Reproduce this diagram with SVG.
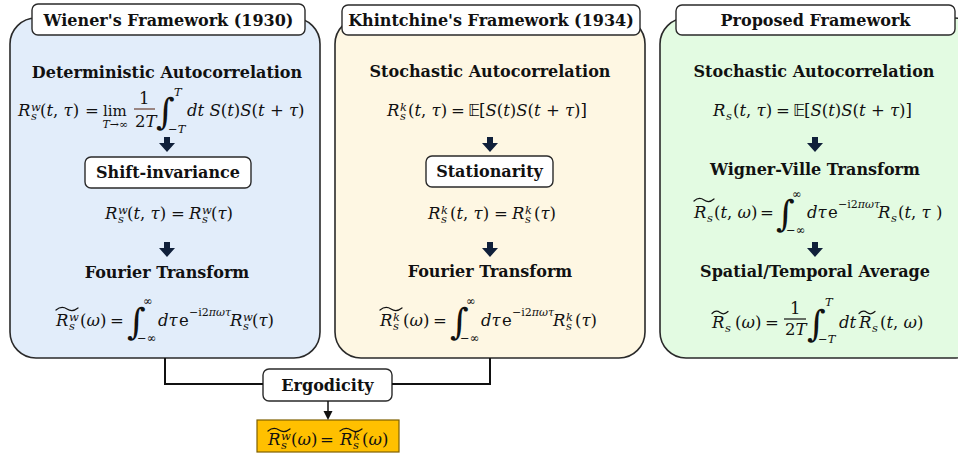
<svg xmlns="http://www.w3.org/2000/svg" width="958" height="453" viewBox="0 0 958 453">
<defs>
<style>
.frame{stroke:#2a2a2a;stroke-width:1.6}
.tb{fill:#fff;stroke:#2a2a2a;stroke-width:1.4}
.h{font-family:"DejaVu Serif","Liberation Serif",serif;font-weight:bold;font-size:16px;fill:#111;text-anchor:middle}
.m{font-family:"DejaVu Serif","Liberation Serif",serif;font-size:16.5px;font-style:italic;fill:#111}
.u{font-style:normal}
.sm{font-size:11.5px}
.xs{font-size:11px}
.bb{font-family:"DejaVu Sans",sans-serif;font-style:normal}
.int{font-family:"DejaVu Serif",serif;font-size:36px;font-style:normal}
.tld{fill:none;stroke:#111;stroke-width:1.2;stroke-linecap:round}
.fb{stroke:#111;stroke-width:1.2}
.conn{fill:none;stroke:#111;stroke-width:2}
.blk{fill:#10203a}
</style>
<path id="darr" d="M-3,0 H3 V6 H8 L0,15 L-8,6 H-3 Z"/>
</defs>

<!-- Panel 1: Wiener -->
<g id="wiener">
<rect class="frame" x="10" y="18" width="310" height="340" rx="26" fill="#E2EDFA"/>
<rect class="tb" x="32" y="4" width="273" height="31" rx="6"/>
<text class="h" x="168.5" y="26">Wiener's Framework (1930)</text>
<text class="h" x="167" y="78">Deterministic Autocorrelation</text>
<g id="w-eq1">
<line x1="134" y1="109" x2="155" y2="109" stroke="#6b3f2f" stroke-width="1.2"/>
<text class="m"><tspan x="18" y="116">R</tspan><tspan class="sm" x="31" y="111">w</tspan><tspan class="sm" x="31" y="120">s</tspan><tspan x="40" y="116"><tspan class="u">(</tspan>t<tspan class="u">, </tspan>τ<tspan class="u">)</tspan></tspan><tspan class="u" x="85" y="116">=</tspan><tspan class="u" x="103" y="116" font-size="15">lim</tspan><tspan class="xs" x="102.5" y="128">T<tspan class="u">→∞</tspan></tspan><tspan class="u" x="139" y="104">1</tspan><tspan x="135" y="127"><tspan class="u">2</tspan>T</tspan><tspan class="int" x="156" y="124">∫</tspan><tspan class="sm" x="174" y="96">T</tspan><tspan class="sm" x="168" y="133"><tspan class="u">−</tspan>T</tspan><tspan x="187" y="116">dt S<tspan class="u">(</tspan>t<tspan class="u">)</tspan>S<tspan class="u">(</tspan>t <tspan class="u">+</tspan> τ<tspan class="u">)</tspan></tspan></text>
</g>
<g id="w-eq2">
<text class="m"><tspan x="105" y="219">R</tspan><tspan class="sm" x="118" y="214">w</tspan><tspan class="sm" x="118" y="223">s</tspan><tspan x="127" y="219"><tspan class="u">(</tspan>t<tspan class="u">, </tspan>τ<tspan class="u">)</tspan></tspan><tspan class="u" x="171" y="219">=</tspan><tspan x="189" y="219">R</tspan><tspan class="sm" x="202" y="214">w</tspan><tspan class="sm" x="202" y="223">s</tspan><tspan x="211" y="219"><tspan class="u">(</tspan>τ<tspan class="u">)</tspan></tspan></text>
</g>
<text class="h" x="167" y="278">Fourier Transform</text>
<g id="w-eq3">
<path class="tld" d="M56,310 Q61.5,305.5 67,309 Q72.5,312.5 78,308"/>
<text class="m"><tspan x="56" y="326">R</tspan><tspan class="sm" x="69" y="321">w</tspan><tspan class="sm" x="69" y="330">s</tspan><tspan x="80" y="326"><tspan class="u">(</tspan>ω<tspan class="u">)</tspan></tspan><tspan class="u" x="110" y="326">=</tspan><tspan class="int" x="127" y="334">∫</tspan><tspan class="sm u" x="143" y="305">∞</tspan><tspan class="sm u" x="137" y="342">−∞</tspan><tspan x="158" y="326">dτ</tspan><tspan class="u" x="179" y="326">e</tspan><tspan class="xs" x="189" y="316"><tspan class="u">−i2</tspan>πωτ</tspan><tspan x="230" y="326">R</tspan><tspan class="sm" x="243" y="321">w</tspan><tspan class="sm" x="243" y="330">s</tspan><tspan x="252" y="326"><tspan class="u">(</tspan>τ<tspan class="u">)</tspan></tspan></text>
</g>
</g>

<g id="shift-invariance">
<rect class="tb" x="85" y="157" width="166" height="31" rx="6" fill="#E2EDFA"/>
<text class="h" x="168" y="178">Shift-invariance</text>
</g>

<!-- Panel 2: Khintchine -->
<g id="khintchine">
<rect class="frame" x="335" y="18" width="310" height="340" rx="26" fill="#FEF7E3"/>
<rect class="tb" x="342" y="5" width="298" height="30" rx="6"/>
<text class="h" x="491" y="26">Khintchine's Framework (1934)</text>
<text class="h" x="490" y="77">Stochastic Autocorrelation</text>
<g id="k-eq1">
<text class="m"><tspan x="387" y="116">R</tspan><tspan class="sm" x="400" y="111">k</tspan><tspan class="sm" x="400" y="120">s</tspan><tspan x="408" y="116"><tspan class="u">(</tspan>t<tspan class="u">, </tspan>τ<tspan class="u">)</tspan></tspan><tspan class="u" x="451" y="116">=</tspan><tspan class="bb" x="468" y="116">𝔼</tspan><tspan x="479" y="116"><tspan class="u">[</tspan>S<tspan class="u">(</tspan>t<tspan class="u">)</tspan>S<tspan class="u">(</tspan>t <tspan class="u">+</tspan> τ<tspan class="u">)]</tspan></tspan></text>
</g>
<g id="k-eq2">
<text class="m"><tspan x="428" y="219">R</tspan><tspan class="sm" x="441" y="214">k</tspan><tspan class="sm" x="441" y="223">s</tspan><tspan x="450" y="219"><tspan class="u">(</tspan>t<tspan class="u">, </tspan>τ<tspan class="u">)</tspan></tspan><tspan class="u" x="494" y="219">=</tspan><tspan x="512" y="219">R</tspan><tspan class="sm" x="525" y="214">k</tspan><tspan class="sm" x="525" y="223">s</tspan><tspan x="534" y="219"><tspan class="u">(</tspan>τ<tspan class="u">)</tspan></tspan></text>
</g>
<text class="h" x="490" y="277">Fourier Transform</text>
<g id="k-eq3">
<path class="tld" d="M380,310 Q385.5,305.5 391,309 Q396.5,312.5 402,308"/>
<text class="m"><tspan x="380" y="326">R</tspan><tspan class="sm" x="393" y="321">k</tspan><tspan class="sm" x="393" y="330">s</tspan><tspan x="403" y="326"><tspan class="u">(</tspan>ω<tspan class="u">)</tspan></tspan><tspan class="u" x="433" y="326">=</tspan><tspan class="int" x="450" y="334">∫</tspan><tspan class="sm u" x="466" y="305">∞</tspan><tspan class="sm u" x="460" y="342">−∞</tspan><tspan x="481" y="326">dτ</tspan><tspan class="u" x="502" y="326">e</tspan><tspan class="xs" x="512" y="316"><tspan class="u">−i2</tspan>πωτ</tspan><tspan x="553" y="326">R</tspan><tspan class="sm" x="566" y="321">k</tspan><tspan class="sm" x="566" y="330">s</tspan><tspan x="575" y="326"><tspan class="u">(</tspan>τ<tspan class="u">)</tspan></tspan></text>
</g>
</g>

<g id="stationarity">
<rect class="tb" x="426" y="156" width="127" height="31" rx="6" fill="#FEF7E3"/>
<text class="h" x="489.5" y="177">Stationarity</text>
</g>

<!-- Panel 3: Proposed -->
<g id="proposed">
<rect class="frame" x="660" y="18" width="320" height="340" rx="26" fill="#E3FBE2"/>
<rect class="tb" x="676" y="5" width="279" height="30" rx="6"/>
<text class="h" x="815.5" y="26">Proposed Framework</text>
<text class="h" x="814" y="77">Stochastic Autocorrelation</text>
<g id="p-eq1">
<text class="m"><tspan x="713" y="116">R</tspan><tspan class="sm" x="726" y="120">s</tspan><tspan x="733" y="116"><tspan class="u">(</tspan>t<tspan class="u">, </tspan>τ<tspan class="u">)</tspan></tspan><tspan class="u" x="776" y="116">=</tspan><tspan class="bb" x="793" y="116">𝔼</tspan><tspan x="804" y="116"><tspan class="u">[</tspan>S<tspan class="u">(</tspan>t<tspan class="u">)</tspan>S<tspan class="u">(</tspan>t <tspan class="u">+</tspan> τ<tspan class="u">)]</tspan></tspan></text>
</g>
<text class="h" x="815" y="175">Wigner-Ville Transform</text>
<g id="p-eq2">
<path class="tld" d="M694,201 Q699,196.5 704,200 Q709,203.5 714,199"/>
<text class="m"><tspan x="694" y="218">R</tspan><tspan class="sm" x="707" y="222">s</tspan><tspan x="714" y="218"><tspan class="u">(</tspan>t<tspan class="u">, </tspan>ω<tspan class="u">)</tspan></tspan><tspan class="u" x="760" y="218">=</tspan><tspan class="int" x="776" y="226">∫</tspan><tspan class="sm u" x="792" y="198">∞</tspan><tspan class="sm u" x="786" y="234">−∞</tspan><tspan x="807" y="218">dτ</tspan><tspan class="u" x="828" y="218">e</tspan><tspan class="xs" x="838" y="208"><tspan class="u">−i2</tspan>πωτ</tspan><tspan x="878" y="218">R</tspan><tspan class="sm" x="891" y="222">s</tspan><tspan x="898" y="218"><tspan class="u">(</tspan>t<tspan class="u">, </tspan>τ <tspan class="u">)</tspan></tspan></text>
</g>
<text class="h" x="815" y="277">Spatial/Temporal Average</text>
<g id="p-eq3">
<line x1="784" y1="319" x2="806" y2="319" class="fb"/>
<path class="tld" d="M712,313.5 Q716,309.5 720,312.5 Q724,315.5 728,311.5"/>
<path class="tld" d="M859,313.5 Q863,309.5 867,312.5 Q871,315.5 875,311.5"/>
<text class="m"><tspan x="712" y="328">R</tspan><tspan class="sm" x="725" y="332">s</tspan><tspan x="735" y="328"><tspan class="u">(</tspan>ω<tspan class="u">)</tspan></tspan><tspan class="u" x="765" y="328">=</tspan><tspan class="u" x="790" y="314">1</tspan><tspan x="785" y="335"><tspan class="u">2</tspan>T</tspan><tspan class="int" x="807" y="336">∫</tspan><tspan class="sm" x="825" y="306">T</tspan><tspan class="sm" x="818" y="343"><tspan class="u">−</tspan>T</tspan><tspan x="839" y="328">dt</tspan><tspan x="859" y="328">R</tspan><tspan class="sm" x="872" y="332">s</tspan><tspan x="880" y="328"><tspan class="u">(</tspan>t<tspan class="u">, </tspan>ω<tspan class="u">)</tspan></tspan></text>
</g>
</g>

<g id="ergodicity">
<rect class="tb" x="263" y="369" width="129" height="32" rx="6"/>
<text class="h" x="327.5" y="391">Ergodicity</text>
</g>

<g id="result">
<rect x="257" y="420" width="142" height="32" fill="#FFC000" stroke="#7f6000" stroke-width="1.2"/>
<path class="tld" d="M268,431 Q273.5,426.5 279,430 Q284.5,433.5 290,429"/>
<path class="tld" d="M340,431 Q345.5,426.5 351,430 Q356.5,433.5 362,429"/>
<text class="m"><tspan x="268" y="445">R</tspan><tspan class="sm" x="281" y="440">w</tspan><tspan class="sm" x="281" y="449">s</tspan><tspan x="291" y="445"><tspan class="u">(</tspan>ω<tspan class="u">)</tspan></tspan><tspan class="u" x="320" y="445">=</tspan><tspan x="340" y="445">R</tspan><tspan class="sm" x="353" y="440">k</tspan><tspan class="sm" x="353" y="449">s</tspan><tspan x="362" y="445"><tspan class="u">(</tspan>ω<tspan class="u">)</tspan></tspan></text>
</g>

<g id="connectors">
<use href="#darr" class="blk" x="167" y="137"/>
<use href="#darr" class="blk" x="167" y="242"/>
<use href="#darr" class="blk" x="490" y="137"/>
<use href="#darr" class="blk" x="490" y="242"/>
<use href="#darr" class="blk" x="815" y="137"/>
<use href="#darr" class="blk" x="815" y="242"/>
<polyline class="conn" points="165,358 165,384 263,384"/>
<polyline class="conn" points="490,358 490,384 392,384"/>
<line x1="328" y1="401" x2="328" y2="412" stroke="#111" stroke-width="1.5"/>
<polygon points="323.5,411 332.5,411 328,420" fill="#111"/>
</g>
</svg>
